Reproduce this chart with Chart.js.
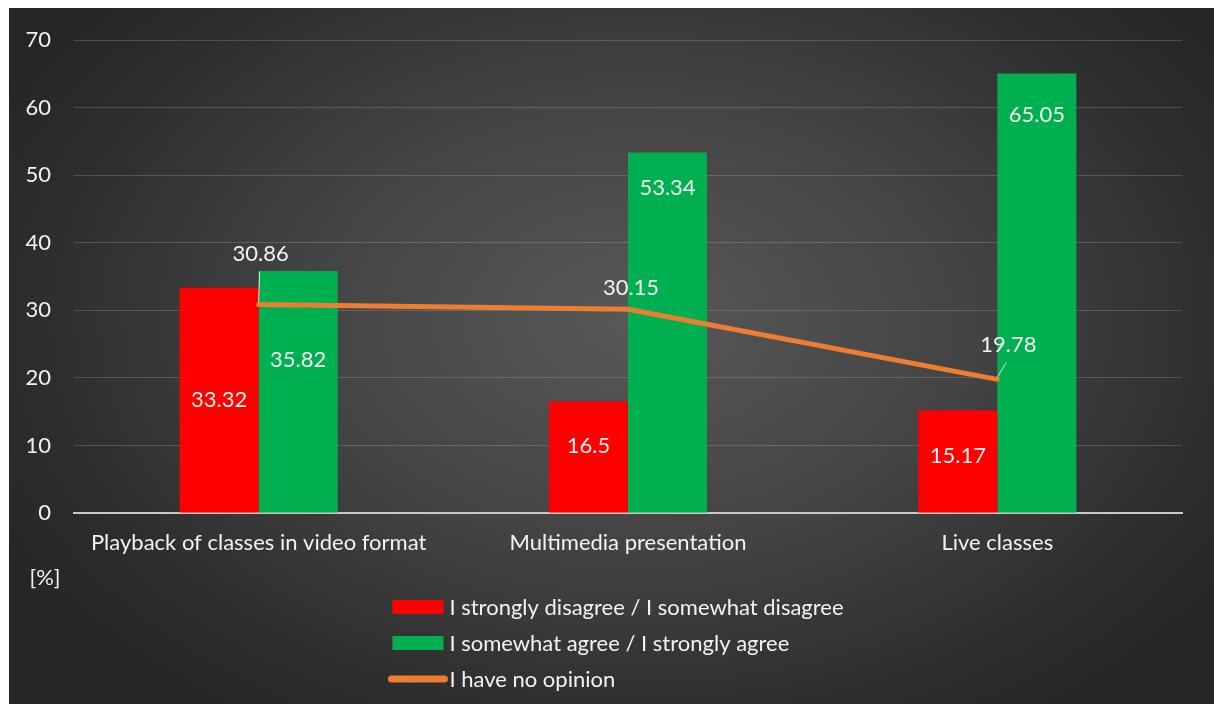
<!DOCTYPE html>
<html>
<head>
<meta charset="utf-8">
<script src="https://cdn.jsdelivr.net/npm/chart.js@4.4.0/dist/chart.umd.min.js"></script>
<style>
  html, body { margin: 0; padding: 0; background: #fff; }
  #wrap {
    position: absolute; left: 9px; top: 8px; width: 1205px; height: 696px;
    background: radial-gradient(ellipse 60% 70% at 52% 45%, #585858 0%, #444 45%, #2c2c2c 85%, #262626 100%);
  }
</style>
</head>
<body>
<div id="wrap"><canvas id="chart"></canvas></div>
<script>
// data
const categories = ['Playback of classes in video format', 'Multimedia presentation', 'Live classes'];
const disagree = [33.32, 16.5, 15.17];
const agree = [35.82, 53.34, 65.05];
const noOpinion = [30.86, 30.15, 19.78];
const yTicks = [0, 10, 20, 30, 40, 50, 60, 70];
const seriesNames = ['I strongly disagree / I somewhat disagree', 'I somewhat agree / I strongly agree', 'I have no opinion'];

// label nudges (pixels), like the hand-moved labels in the original
const redLabelDy = [0, -11, -6];
const greenLabelDy = [89, 35, 41];
const lineLabelDx = [2, 3, 11];
const lineLabelDy = [-51, -21, -34];
const lineLeader = [true, false, true];

const FONT = 'Lato, "Open Sans", sans-serif';
const FSIZE = 22;
const TXT = '#f2f2f2';

const labelsPlugin = {
  id: 'valueLabels',
  afterDatasetsDraw(chart) {
    const ctx = chart.ctx;
    const red = chart.getDatasetMeta(0).data;
    const green = chart.getDatasetMeta(1).data;
    const line = chart.getDatasetMeta(2).data;
    ctx.save();
    ctx.font = FSIZE + 'px ' + FONT;
    ctx.fillStyle = TXT;
    ctx.textAlign = 'center';
    ctx.textBaseline = 'middle';
    red.forEach((b, i) => {
      ctx.fillText(String(disagree[i]), b.x, (b.y + b.base) / 2 + redLabelDy[i]);
    });
    green.forEach((b, i) => {
      ctx.fillText(String(agree[i]), b.x, b.y + greenLabelDy[i]);
    });
    line.forEach((p, i) => {
      const tx = p.x + lineLabelDx[i], ty = p.y + lineLabelDy[i];
      ctx.fillText(String(noOpinion[i]), tx, ty);
      if (lineLeader[i]) {
        ctx.strokeStyle = '#e6e6e6';
        ctx.lineWidth = 1;
        ctx.beginPath();
        ctx.moveTo(p.x, p.y - 2);
        const ey = ty + (i === 0 ? 18 : 17);
        const ex = i === 0 ? p.x + 1 : tx - 2;
        ctx.lineTo(ex, ey);
        ctx.stroke();
      }
    });
    ctx.restore();
  }
};

const legendPlugin = {
  id: 'stackLegend',
  afterDraw(chart) {
    const ctx = chart.ctx;
    const area = chart.chartArea;
    ctx.save();
    ctx.font = FSIZE + 'px ' + FONT;
    ctx.textBaseline = 'middle';
    ctx.textAlign = 'left';
    let maxW = 0;
    seriesNames.forEach(n => { maxW = Math.max(maxW, ctx.measureText(n).width); });
    const blockW = 57 + maxW;
    const left = (area.left + area.right) / 2 - blockW / 2 - 10;
    chart.data.datasets.forEach((ds, i) => {
      const y = area.bottom + 94 + i * 36;
      if (ds.type === 'line') {
        ctx.strokeStyle = ds.borderColor;
        ctx.lineWidth = 7;
        ctx.lineCap = 'round';
        ctx.beginPath();
        ctx.moveTo(left - 1, y);
        ctx.lineTo(left + 52, y);
        ctx.stroke();
      } else {
        ctx.fillStyle = ds.backgroundColor;
        ctx.fillRect(left, y - 7, 51, 14);
      }
      ctx.fillStyle = TXT;
      ctx.fillText(ds.label, left + 57, y + 1);
    });
    // unit label under the value axis
    ctx.textAlign = 'center';
    ctx.fillText('[%]', area.left - 29, area.bottom + 65);
    ctx.restore();
  }
};

new Chart(document.getElementById('chart'), {
  data: {
    labels: categories,
    datasets: [
      { type: 'bar', label: seriesNames[0], data: disagree, backgroundColor: '#ff0000', order: 2,
        categoryPercentage: 0.428, barPercentage: 1.0 },
      { type: 'bar', label: seriesNames[1], data: agree, backgroundColor: '#00b050', order: 2,
        categoryPercentage: 0.428, barPercentage: 1.0 },
      { type: 'line', label: seriesNames[2], data: noOpinion, borderColor: '#ed7d31', borderWidth: 5,
        borderCapStyle: 'round', borderJoinStyle: 'round', pointRadius: 0, tension: 0, order: 1 }
    ]
  },
  options: {
    responsive: true,
    maintainAspectRatio: false,
    animation: false,
    layout: { padding: { left: 0, right: 32, top: 32, bottom: 131 } },
    plugins: { legend: { display: false }, tooltip: { enabled: false } },
    scales: {
      x: {
        grid: { display: false, drawTicks: false },
        border: { display: true, color: '#c8c8c8', width: 2 },
        ticks: { color: TXT, font: { family: FONT, size: FSIZE }, padding: 17, maxRotation: 0 },
        afterFit(scale) { scale.height = 60; }
      },
      y: {
        min: 0, max: 70,
        afterBuildTicks(scale) { scale.ticks = yTicks.map(v => ({ value: v })); },
        grid: {
          drawTicks: false,
          color: ctx => ctx.tick && ctx.tick.value === 0 ? 'rgba(0,0,0,0)' : 'rgba(255,255,255,0.16)',
          lineWidth: 1
        },
        border: { display: false },
        ticks: { color: TXT, font: { family: FONT, size: FSIZE }, padding: 23 },
        afterFit(scale) { scale.width = 65; scale.paddingTop = 0; scale.paddingBottom = 0; }
      }
    }
  },
  plugins: [labelsPlugin, legendPlugin]
});
</script>
</body>
</html>
